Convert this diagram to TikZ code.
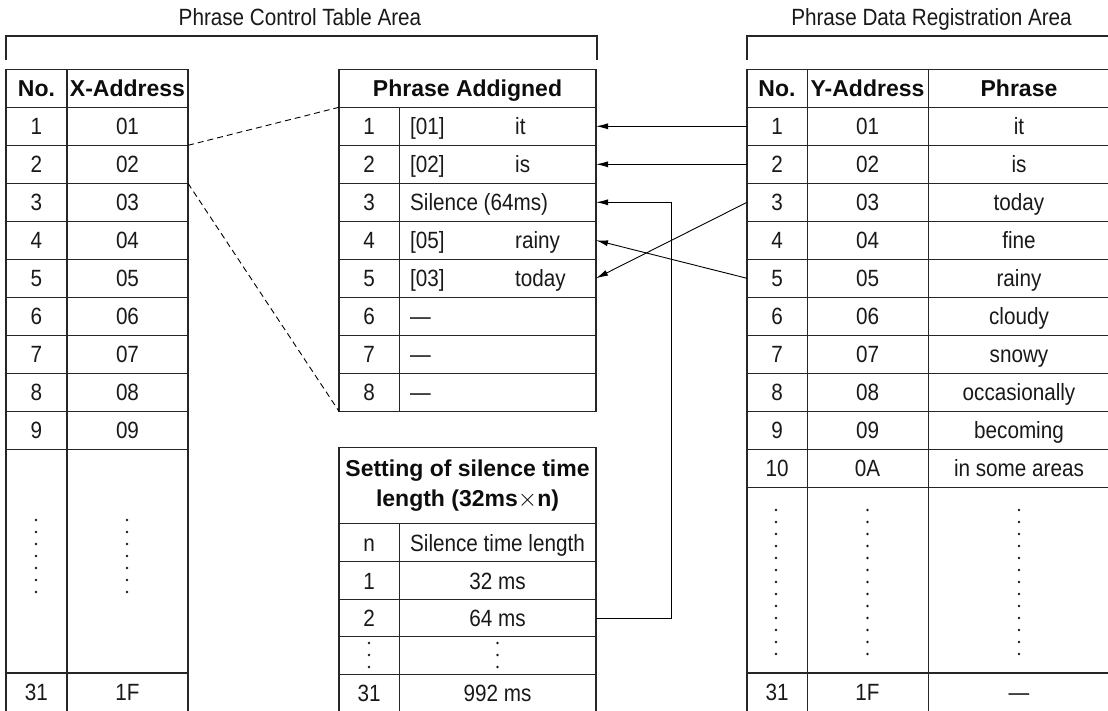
\documentclass[tikz,border=0pt]{standalone}
\usepackage{fontspec}
\setmainfont{Liberation Sans}
\newfontfamily\condf{Liberation Sans}[FakeStretch=0.88]
\usetikzlibrary{arrows.meta}
\begin{document}
\begin{tikzpicture}[x=1pt,y=-1pt,
  grid/.style={line width=1.2pt, draw=black!85},
  txt/.style={font=\condf\fontsize{23.5}{25}\selectfont, inner sep=0pt, anchor=base, text=black!90},
  txtw/.style={txt, anchor=base west},
  hdr/.style={font=\bfseries\fontsize{23}{26}\selectfont, inner sep=0pt, anchor=base, text=black!95},
  lead/.style={dash pattern=on 6pt off 4pt, line width=0.9pt},
  link/.style={line width=0.9pt, -{Latex[length=12pt,width=6pt]}},
  dotmark/.style={fill=black!90}
]
\useasboundingbox (0,0) rectangle (1108,711);

% ---------- area brackets ----------
\node[txt] (areaL) at (300,26) {Phrase Control Table Area};
\node[txt] (areaR) at (931.5,26) {Phrase Data Registration Area};
\draw[grid] (6,60) -- (6,36) -- (597,36) -- (597,60);
\draw[grid] (747,60) -- (747,36) -- (1125,36) -- (1125,60);

% ---------- left table ----------
\draw[grid] (6,69.3) rectangle (188,715);
\draw[grid] (67,69.3) -- (67,715);
\foreach \k in {1,...,10} \draw[grid] (6,69.3+38*\k) -- (188,69.3+38*\k);
\draw[grid] (6,673) -- (188,673);
\node[hdr] (lhN) at (36.5,96.5) {No.};
\node[hdr] (lhX) at (127.5,96.5) {X-Address};
\foreach \i/\ad in {1/01,2/02,3/03,4/04,5/05,6/06,7/07,8/08,9/09} {
  \pgfmathsetmacro\yb{88.3+38*\i+8.3}
  \node[txt] (ln\i) at (36.5,\yb) {\i};
  \node[txt] (la\i) at (127.5,\yb) {\ad};
}
\node[txt] (ln31) at (36.5,700.5) {31};
\node[txt] (la31) at (127.5,700.5) {1F};
\foreach \j in {0,...,6} {
  \fill[dotmark] (36,520+12*\j) circle (1.3pt);
  \fill[dotmark] (127,520+12*\j) circle (1.3pt);
}

% ---------- middle table: Phrase Addigned ----------
\draw[grid] (339,69.3) rectangle (596,411.3);
\draw[grid] (399.3,107.3) -- (399.3,411.3);
\foreach \k in {1,...,8} \draw[grid] (339,69.3+38*\k) -- (596,69.3+38*\k);
\node[hdr] (mh) at (467.5,96.5) {Phrase Addigned};
\foreach \i/\a/\b in {1/[01]/it,2/[02]/is,4/[05]/rainy,5/[03]/today} {
  \pgfmathsetmacro\yb{88.3+38*\i+8.3}
  \node[txt] (mn\i) at (369,\yb) {\i};
  \node[txtw] (ma\i) at (410,\yb) {\a};
  \node[txtw] (mb\i) at (515,\yb) {\b};
}
\node[txt] (mn3) at (369,88.3+38*3+8.3) {3};
\node[txtw] (ma3) at (410,88.3+38*3+8.3) {Silence (64ms)};
\foreach \i in {6,7,8} {
  \pgfmathsetmacro\yb{88.3+38*\i+8.3}
  \node[txt] (mn\i) at (369,\yb) {\i};
  \node[txtw] (ma\i) at (410,\yb) {—};
}

% ---------- silence table ----------
\draw[grid] (339,447.7) rectangle (596,715);
\draw[grid] (399.3,523.3) -- (399.3,715);
\foreach \yy in {523.3,561.7,599.3,636.7,674.3} \draw[grid] (339,\yy) -- (596,\yy);
\node[hdr] (st1) at (467.5,476) {Setting of silence time};
\node[hdr] (st2) at (467.5,506) {length (32ms{\mdseries$\times$}n)};
\node[txt] (sn0) at (369,551) {n};
\node[txt] (sv0) at (497.5,551) {Silence time length};
\node[txt] (sn1) at (369,589) {1};
\node[txt] (sv1) at (497.5,589) {32 ms};
\node[txt] (sn2) at (369,626.5) {2};
\node[txt] (sv2) at (497.5,626.5) {64 ms};
\node[txt] (sn31) at (369,701) {31};
\node[txt] (sv31) at (497.5,701) {992 ms};
\foreach \j in {0,1,2} {
  \fill[dotmark] (369,643+12*\j) circle (1.3pt);
  \fill[dotmark] (497.5,643+12*\j) circle (1.3pt);
}

% ---------- right table ----------
\draw[grid] (747,69.3) rectangle (1110,715);
\draw[grid] (807.3,69.3) -- (807.3,715);
\draw[grid] (928.3,69.3) -- (928.3,715);
\foreach \k in {1,...,11} \draw[grid] (747,69.3+38*\k) -- (1110,69.3+38*\k);
\draw[grid] (747,673) -- (1110,673);
\node[hdr] (rhN) at (777,96.5) {No.};
\node[hdr] (rhY) at (867.5,96.5) {Y-Address};
\node[hdr] (rhP) at (1019,96.5) {Phrase};
\foreach \i/\ad/\ph in {1/01/it,2/02/is,3/03/today,4/04/fine,5/05/rainy,6/06/cloudy,7/07/snowy,8/08/occasionally,9/09/becoming,10/0A/in some areas} {
  \pgfmathsetmacro\yb{88.3+38*\i+8.3}
  \node[txt] (rn\i) at (777,\yb) {\i};
  \node[txt] (ra\i) at (867.5,\yb) {\ad};
  \node[txt] (rp\i) at (1019,\yb) {\ph};
}
\node[txt] (rn31) at (777,700.5) {31};
\node[txt] (ra31) at (867.5,700.5) {1F};
\node[txt] (rp31) at (1019,700.5) {—};
\foreach \j in {0,...,12} {
  \fill[dotmark] (776,510+12*\j) circle (1.3pt);
  \fill[dotmark] (867.5,510+12*\j) circle (1.3pt);
  \fill[dotmark] (1019,510+12*\j) circle (1.3pt);
}

% ---------- connector end points ----------
\coordinate (Lr12) at (188,145.3);
\coordinate (Lr23) at (188,183.3);
\coordinate (Mtl) at (339,107.3);
\coordinate (Mbl) at (339,411.3);
\coordinate (M1) at (596,126.3);
\coordinate (M2) at (596,164.3);
\coordinate (M3) at (596,202.3);
\coordinate (M4) at (596,240.3);
\coordinate (M5) at (596,278.3);
\coordinate (R1) at (747,126.3);
\coordinate (R2) at (747,164.3);
\coordinate (R3) at (747,202.3);
\coordinate (R5) at (747,278.3);
\coordinate (S2) at (596,618);

% ---------- connectors ----------
\draw[lead] (Lr12) -- (Mtl);
\draw[lead] (Lr23) -- (Mbl);
\draw[link] (R1) -- (M1);
\draw[link] (R2) -- (M2);
\draw[link] (R3) -- (M5);
\draw[link] (R5) -- (M4);
\draw[link] (S2) -- (671.7,618) -- (671.7,202.3) -- (M3);
\end{tikzpicture}
\end{document}
